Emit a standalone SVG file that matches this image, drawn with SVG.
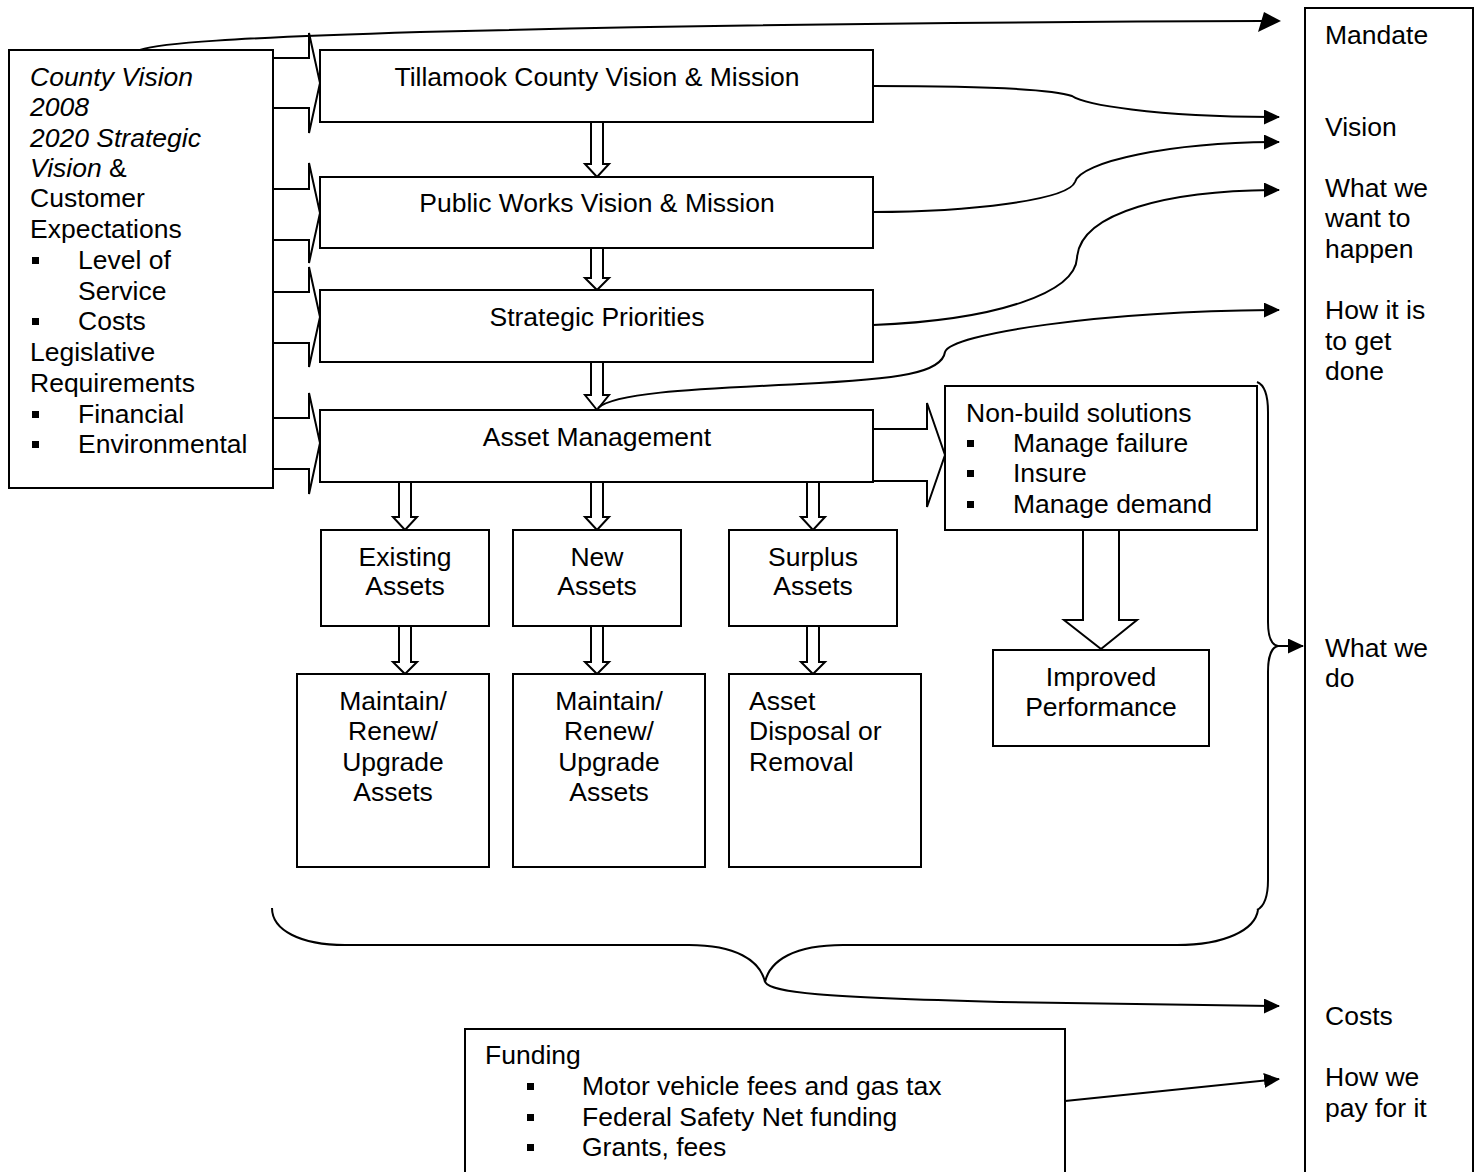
<svg xmlns="http://www.w3.org/2000/svg" width="1479" height="1172" viewBox="0 0 1479 1172">
<defs>
<style>
text{font-family:"Liberation Sans",Arial,sans-serif;font-size:26.5px;fill:#000}
.c{text-anchor:middle}
.i{font-style:italic}
.box{fill:#fff;stroke:#000;stroke-width:2}
.blk{fill:#fff;stroke:#000;stroke-width:2;stroke-linejoin:miter}
.ln{fill:none;stroke:#000;stroke-width:2}
.b{fill:#000}
</style>
<marker id="ah" markerWidth="16" markerHeight="15" refX="15" refY="7.5" orient="auto" markerUnits="userSpaceOnUse">
<path d="M0,0 L16,7.5 L0,15 z" fill="#000"/>
</marker>
</defs>
<rect width="1479" height="1172" fill="#fff"/>

<g id="connectors">
<!-- left block arrows -->
<path class="blk" d="M273,58 H309 V33 L320,83 L309,133 V108 H273"/>
<path class="blk" d="M273,189 H309 V163 L320,213 L309,263 V240 H273"/>
<path class="blk" d="M273,292 H309 V267 L320,317 L309,367 V343 H273"/>
<path class="blk" d="M273,418 H309 V393 L320,443 L309,494 V469 H273"/>
<!-- vertical block arrows main column -->
<path class="blk" d="M591,122 V164 H585 L597,177 L609,164 H603 V122"/>
<path class="blk" d="M591,248 V278 H585 L597,290 L609,278 H603 V248"/>
<path class="blk" d="M591,362 V395 H585 L597,410 L609,395 H603 V362"/>
<!-- to sub boxes -->
<path class="blk" d="M399,482 V517 H393 L405,530 L417,517 H411 V482"/>
<path class="blk" d="M591,482 V517 H585 L597,530 L609,517 H603 V482"/>
<path class="blk" d="M807,482 V517 H801 L813,530 L825,517 H819 V482"/>
<path class="blk" d="M399,626 V662 H393 L405,674 L417,662 H411 V626"/>
<path class="blk" d="M591,626 V662 H585 L597,674 L609,662 H603 V626"/>
<path class="blk" d="M807,626 V662 H801 L813,674 L825,662 H819 V626"/>
<!-- to non-build -->
<path class="blk" d="M873,429 H927 V403 L945,455 L927,507 V481 H873"/>
<!-- to improved performance -->
<path class="blk" d="M1083,530 V620 H1064 L1101,649 L1137,620 H1119 V530"/>

<!-- Mandate line -->
<path class="ln" d="M140,50 C160,43 230,38 420,32 C700,25 1000,22 1262,21"/>
<polygon points="1264,12 1281,21 1258,32" fill="#000"/>
<!-- Tillamook -> Vision -->
<path class="ln" marker-end="url(#ah)" d="M873,86 C960,86 1050,88 1072,96 C1084,104 1150,117 1279,117"/>
<!-- Public Works -> -->
<path class="ln" marker-end="url(#ah)" d="M873,212 C970,212 1068,200 1075,182 C1080,162 1170,142 1279,142"/>
<!-- Strategic Priorities -> -->
<path class="ln" marker-end="url(#ah)" d="M873,325 C1000,320 1075,292 1077,258 C1080,212 1170,190 1279,190"/>
<!-- Asset Management -> How it is -->
<path class="ln" marker-end="url(#ah)" d="M598,408 C615,392 700,389 800,384 C900,379 942,373 945,352 C950,334 1100,311 1279,310"/>
<!-- right brace -->
<path class="ln" d="M1257,382 C1265,385 1268,395 1268,412 L1268,622 C1268,637 1272,645 1278,646 C1272,647 1268,656 1268,672 L1268,880 C1268,900 1263,907 1257,910"/>
<path class="ln" marker-end="url(#ah)" d="M1278,646 H1303"/>
<!-- bottom brace -->
<path class="ln" d="M272,908 C272,930 300,945 345,945 L689,945 C735,945 760,960 765,982 C770,960 795,945 843,945 L1177,945 C1225,945 1255,930 1258,910"/>
<!-- Costs -->
<path class="ln" marker-end="url(#ah)" d="M765,982 C772,993 820,997 1000,1002 C1150,1005 1220,1006 1279,1006"/>
<!-- Funding -> How we pay -->
<path class="ln" marker-end="url(#ah)" d="M1065,1101 L1279,1079"/>
</g>

<g id="node-inputs">
<rect class="box" x="9" y="50" width="264" height="438"/>
<text x="30" y="86" class="i">County Vision</text>
<text x="30" y="116" class="i">2008</text>
<text x="30" y="147" class="i">2020 Strategic</text>
<text x="30" y="177"><tspan class="i">Vision</tspan> &amp;</text>
<text x="30" y="207">Customer</text>
<text x="30" y="238">Expectations</text>
<rect class="b" x="32" y="257" width="7" height="7"/>
<text x="78" y="269">Level of</text>
<text x="78" y="300">Service</text>
<rect class="b" x="32" y="318" width="7" height="7"/>
<text x="78" y="330">Costs</text>
<text x="30" y="361">Legislative</text>
<text x="30" y="392">Requirements</text>
<rect class="b" x="32" y="411" width="7" height="7"/>
<text x="78" y="423">Financial</text>
<rect class="b" x="32" y="441" width="7" height="7"/>
<text x="78" y="453">Environmental</text>
</g>

<g id="node-tillamook">
<rect class="box" x="320" y="50" width="553" height="72"/>
<text x="597" y="86" class="c">Tillamook County Vision &amp; Mission</text>
</g>
<g id="node-publicworks">
<rect class="box" x="320" y="177" width="553" height="71"/>
<text x="597" y="212" class="c">Public Works Vision &amp; Mission</text>
</g>
<g id="node-strategic">
<rect class="box" x="320" y="290" width="553" height="72"/>
<text x="597" y="326" class="c">Strategic Priorities</text>
</g>
<g id="node-asset">
<rect class="box" x="320" y="410" width="553" height="72"/>
<text x="597" y="446" class="c">Asset Management</text>
</g>

<g id="node-existing">
<rect class="box" x="321" y="530" width="168" height="96"/>
<text x="405" y="566" class="c">Existing</text>
<text x="405" y="595" class="c">Assets</text>
</g>
<g id="node-new">
<rect class="box" x="513" y="530" width="168" height="96"/>
<text x="597" y="566" class="c">New</text>
<text x="597" y="595" class="c">Assets</text>
</g>
<g id="node-surplus">
<rect class="box" x="729" y="530" width="168" height="96"/>
<text x="813" y="566" class="c">Surplus</text>
<text x="813" y="595" class="c">Assets</text>
</g>

<g id="node-maintain1">
<rect class="box" x="297" y="674" width="192" height="193"/>
<text x="393" y="710" class="c">Maintain/</text>
<text x="393" y="740" class="c">Renew/</text>
<text x="393" y="771" class="c">Upgrade</text>
<text x="393" y="801" class="c">Assets</text>
</g>
<g id="node-maintain2">
<rect class="box" x="513" y="674" width="192" height="193"/>
<text x="609" y="710" class="c">Maintain/</text>
<text x="609" y="740" class="c">Renew/</text>
<text x="609" y="771" class="c">Upgrade</text>
<text x="609" y="801" class="c">Assets</text>
</g>
<g id="node-disposal">
<rect class="box" x="729" y="674" width="192" height="193"/>
<text x="749" y="710">Asset</text>
<text x="749" y="740">Disposal or</text>
<text x="749" y="771">Removal</text>
</g>

<g id="node-nonbuild">
<rect class="box" x="945" y="386" width="312" height="144"/>
<text x="966" y="422">Non-build solutions</text>
<rect class="b" x="967" y="440" width="7" height="7"/>
<text x="1013" y="452">Manage failure</text>
<rect class="b" x="967" y="470" width="7" height="7"/>
<text x="1013" y="482">Insure</text>
<rect class="b" x="967" y="501" width="7" height="7"/>
<text x="1013" y="513">Manage demand</text>
</g>

<g id="node-improved">
<rect class="box" x="993" y="650" width="216" height="96"/>
<text x="1101" y="686" class="c">Improved</text>
<text x="1101" y="716" class="c">Performance</text>
</g>

<g id="node-funding">
<rect class="box" x="465" y="1029" width="600" height="160"/>
<text x="485" y="1064">Funding</text>
<rect class="b" x="527" y="1083" width="7" height="7"/>
<text x="582" y="1095">Motor vehicle fees and gas tax</text>
<rect class="b" x="527" y="1114" width="7" height="7"/>
<text x="582" y="1126">Federal Safety Net funding</text>
<rect class="b" x="527" y="1144" width="7" height="7"/>
<text x="582" y="1156">Grants, fees</text>
</g>

<g id="node-outcomes">
<rect class="box" x="1305" y="8" width="168" height="1180"/>
<text x="1325" y="44">Mandate</text>
<text x="1325" y="136">Vision</text>
<text x="1325" y="197">What we</text>
<text x="1325" y="227">want to</text>
<text x="1325" y="258">happen</text>
<text x="1325" y="319">How it is</text>
<text x="1325" y="350">to get</text>
<text x="1325" y="380">done</text>
<text x="1325" y="657">What we</text>
<text x="1325" y="687">do</text>
<text x="1325" y="1025">Costs</text>
<text x="1325" y="1086">How we</text>
<text x="1325" y="1117">pay for it</text>
</g>
</svg>
